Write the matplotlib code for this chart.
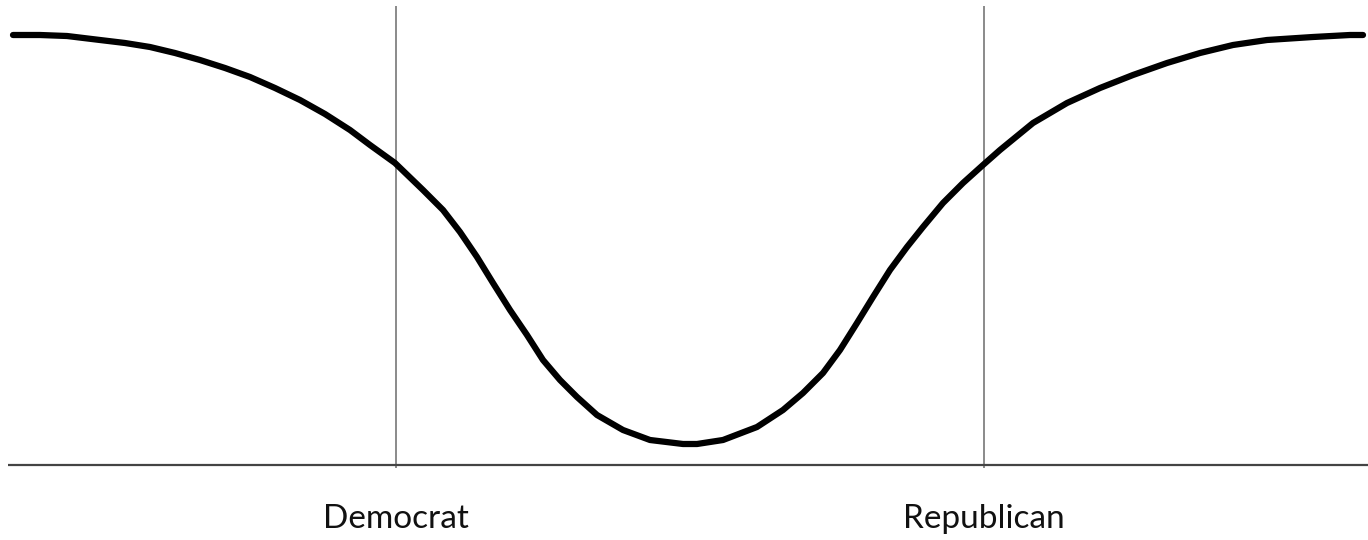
import matplotlib
matplotlib.use("Agg")
import matplotlib.pyplot as plt

# Ideology position (horizontal) and curve height above the baseline
position = [13, 40, 67, 100, 125, 150, 175, 200, 225, 250, 275, 300, 325, 350,
            370, 395, 423, 443, 460, 477, 493, 510, 527, 543, 560, 577, 597,
            623, 650, 683, 697, 723, 757, 783, 803, 823, 840, 857, 873, 890,
            907, 923, 943, 963, 983, 1000, 1033, 1067, 1100, 1133, 1167, 1200,
            1233, 1267, 1313, 1350, 1363]
height = [430, 430, 429, 425, 422, 418, 412, 405, 397, 388, 377, 365, 351, 335,
          320, 302, 275, 255, 233, 208, 182, 155, 130, 105, 85, 68, 50,
          35, 25, 21, 21, 25, 38, 55, 72, 92, 115, 142, 168, 195,
          218, 238, 262, 282, 300, 315, 342, 362, 377, 390, 402, 412,
          420, 425, 428, 430, 430]

party_labels = ["Democrat", "Republican"]
party_positions = [396, 984]

fig = plt.figure(figsize=(13.68, 5.4), dpi=100)
ax = fig.add_axes([0, 0, 1, 1])
ax.set_xlim(0, 1368)
ax.set_ylim(-75, 465)
ax.axis("off")

# baseline
ax.plot([8, 1368], [0, 0], color="#444444", lw=1.6, solid_capstyle="butt", zorder=2)
# party vertical lines
for p in party_positions:
    ax.plot([p, p], [-3, 459], color="#8a8a8a", lw=1.4, solid_capstyle="butt", zorder=1)

ax.plot(position, height, color="black", lw=4.5, solid_capstyle="round",
        solid_joinstyle="round", zorder=3)

for lab, p in zip(party_labels, party_positions):
    ax.text(p, -63, lab, ha="center", va="baseline", fontsize=24,
            family=["Lato", "Roboto", "DejaVu Sans"], color="#111111")

fig.savefig("out.png", dpi=100)
